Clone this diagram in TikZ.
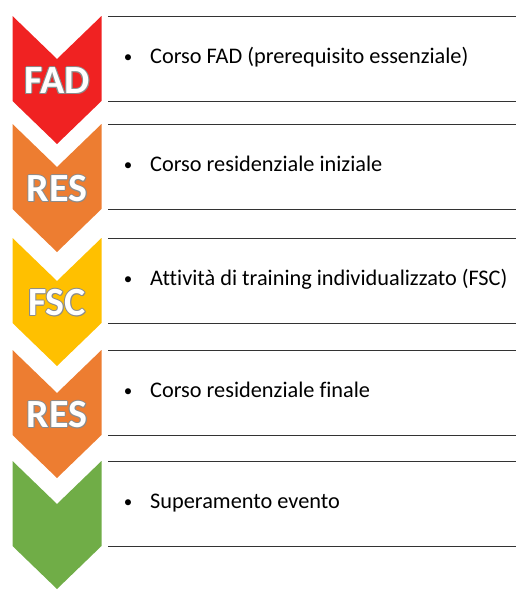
\documentclass[tikz,border=0pt]{standalone}
\usepackage{fontspec}
\setmainfont{Carlito}[Ligatures=NoCommon]
\definecolor{fadred}{RGB}{240,34,34}
\definecolor{resorange}{RGB}{237,125,49}
\definecolor{fscyellow}{RGB}{255,192,0}
\definecolor{endgreen}{RGB}{112,173,71}

\begin{document}
\begin{tikzpicture}[x=1pt,y=-1pt,
	sep/.style={line width=0.9pt,black!80},
	lab/.style={font=\bfseries\fontsize{40}{40}\selectfont,inner sep=0pt},
	item/.style={anchor=base west,font=\fontsize{22.3}{26}\selectfont,inner sep=0pt}]
	\useasboundingbox (0,0) rectangle (529,600);
	% chevrons, separators and items
	\foreach \t/\col/\txt/\n in {16/fadred/{Corso FAD (prerequisito essenziale)}/1,124/resorange/{Corso residenziale iniziale}/2,238/fscyellow/{Attività di training individualizzato (FSC)}/3,350/resorange/{Corso residenziale finale}/4,461/endgreen/{Superamento evento}/5}{
		\fill[\col] (12.5,\t) -- (57,\t+43) -- (101.5,\t) -- (101.5,\t+85) -- (57,\t+128) -- (12.5,\t+85) -- cycle;
		\draw[sep] (108,\t) -- (516,\t);
		\draw[sep] (108,\t+85.5) -- (516,\t+85.5);
		\node[item,anchor=base,font=\fontsize{17}{20}\selectfont] (dot\n) at (128,\t+46) {\textbullet};
		\node[item] (txt\n) at (150,\t+47) {\txt};
	}
	% labels with grey rim
	\foreach \t/\lab/\n in {16/FAD/1,124/RES/2,238/FSC/3,350/RES/4}{
		\foreach \dx/\dy in {-1/0,1/0,0/-1,0/1,-0.7/-0.7,0.7/0.7,-0.7/0.7,0.7/-0.7}
			\node[lab,text=black!45,xshift=\dx pt,yshift=\dy pt] at (57,\t+65) {\lab};
		\node[lab,text=white] (lab\n) at (57,\t+65) {\lab};
	}
\end{tikzpicture}
\end{document}
